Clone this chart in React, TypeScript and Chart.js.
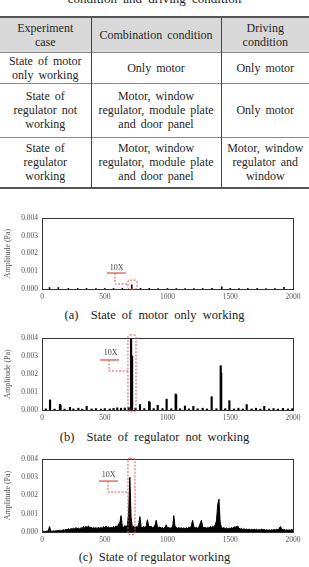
import React, { useEffect, useRef } from "react";
import { Chart, registerables } from "chart.js";
Chart.register(...registerables);

const SERIF = '"Liberation Serif", "Times New Roman", serif';

// Axis ticks
const xTicks = [0, 500, 1000, 1500, 2000];
const yTicks = [0, 0.001, 0.002, 0.003, 0.004];

// (a) State of motor only working — frequency (Hz), amplitude (x1e-4 Pa)
const motorFreq = [60, 130, 210, 285, 355, 430, 500, 570, 640, 715, 785, 855, 925, 1000, 1070, 1140, 1210, 1280, 1355, 1432, 1500, 1570, 1640, 1715, 1785, 1855, 1928];
const motorAmp = [0.8, 0.8, 0.3, 0.3, 0.3, 0.3, 0.3, 0.3, 0.4, 2.3, 0.4, 0.4, 0.3, 0.3, 0.3, 0.3, 0.3, 0.3, 0.4, 1.2, 0.4, 0.3, 0.3, 0.4, 0.3, 0.3, 1.0];

// (b) State of regulator not working
const notWorkingFreq = [30, 64, 100, 143, 148, 180, 223, 250, 290, 320, 356, 395, 430, 470, 500, 540, 570, 600, 630, 660, 690, 710, 718, 745, 781, 815, 853, 858, 890, 922, 960, 993, 1030, 1065, 1069, 1100, 1139, 1170, 1206, 1240, 1280, 1315, 1352, 1390, 1424, 1428, 1460, 1493, 1530, 1565, 1600, 1631, 1670, 1705, 1740, 1771, 1810, 1845, 1880, 1920, 1960, 1995];
const notWorkingAmp = [0.6, 5.6, 0.5, 3.2, 2.6, 0.5, 1.5, 0.6, 1.0, 0.5, 2.0, 0.6, 0.8, 0.5, 0.8, 0.6, 0.9, 1.2, 1.0, 1.1, 1.4, 42, 30, 1.0, 3.0, 0.8, 4.7, 4.2, 0.8, 2.6, 0.8, 6.0, 0.7, 8.9, 8.4, 0.7, 2.2, 0.6, 2.0, 0.7, 1.0, 0.6, 7.4, 0.7, 24.6, 20.5, 0.7, 5.2, 0.6, 1.0, 0.6, 3.0, 0.6, 1.0, 0.5, 2.0, 0.6, 0.8, 0.5, 0.9, 0.6, 0.8];

// (c) State of regulator working — spectrum sampled every 10 Hz from 0 to 2000 Hz (x1e-4 Pa)
const workingStepHz = 10;
const workingAmp = [
  0.2, 0.3, 0.4, 0.3, 0.5, 0.6, 3.0, 0.5, 0.4, 0.6,
  0.5, 0.7, 0.6, 0.9, 0.7, 1.0, 0.8, 1.2, 1.0, 1.5,
  1.2, 1.8, 1.4, 1.9, 1.5, 2.2, 1.6, 2.5, 1.8, 2.2,
  1.6, 2.4, 1.9, 3.0, 2.0, 3.2, 2.2, 3.4, 2.1, 2.8,
  1.9, 2.6, 2.0, 2.4, 1.8, 2.7, 2.0, 2.5, 1.9, 3.0,
  2.1, 3.3, 2.2, 2.9, 2.0, 2.6, 2.1, 3.1, 2.3, 3.4,
  2.5, 4.5, 5.0, 9.0, 3.0, 2.6, 3.5, 2.4, 4.0, 10.0,
  30.0, 8.0, 2.5, 3.2, 2.2, 3.0, 2.4, 4.0, 8.5, 3.0,
  2.3, 3.1, 2.2, 3.4, 6.7, 3.5, 2.8, 3.2, 2.2, 2.9,
  3.5, 6.4, 3.0, 2.4, 2.8, 2.0, 2.6, 1.9, 2.4, 4.0,
  2.1, 2.6, 1.9, 2.5, 2.0, 9.0, 3.0, 2.6, 2.0, 2.5,
  1.9, 2.4, 1.8, 2.3, 1.7, 2.4, 1.9, 2.6, 2.1, 3.5,
  6.4, 3.0, 2.2, 2.6, 2.0, 2.8, 4.5, 6.4, 3.0, 2.3,
  2.7, 2.0, 2.6, 2.1, 3.0, 2.4, 3.2, 2.6, 4.0, 6.0,
  15.0, 18.0, 5.0, 2.6, 2.0, 2.5, 1.8, 2.3, 1.7, 2.2,
  1.8, 2.4, 2.0, 2.8, 2.6, 3.0, 3.2, 2.0, 1.6, 2.0,
  1.4, 1.8, 1.3, 1.7, 1.2, 1.6, 1.2, 1.5, 1.1, 1.6,
  1.2, 1.5, 1.0, 1.4, 1.1, 1.6, 1.2, 1.4, 1.0, 1.3,
  0.9, 1.2, 0.9, 1.3, 1.0, 1.4, 1.1, 1.5, 1.2, 2.0,
  3.0, 1.8, 1.2, 1.5, 1.0, 1.3, 0.9, 1.2, 1.0, 1.4,
  1.1
];

// "10X" zoom annotations (data units: Hz, Pa)
const markA = { labelX: 594, labelY: 0.00118, lineX1: 518, lineX2: 669, lineY: 0.0009, elbowX: 582, elbowY: 0.00028, boxX1: 685, boxX2: 757, boxY1: 0.0, boxY2: 0.0005 };
const markB = { labelX: 546, labelY: 0.00317, lineX1: 462, lineX2: 614, lineY: 0.00278, elbowX: 534, elbowY: 0.00217, boxX1: 685, boxX2: 749, boxY1: -0.0001, boxY2: 0.00417 };
const markC = { labelX: 530, labelY: 0.00312, lineX1: 454, lineX2: 606, lineY: 0.00279, elbowX: 526, elbowY: 0.00219, boxX1: 685, boxX2: 741, boxY1: -0.00015, boxY2: 0.00405 };

const E4 = 1e-4;
const toPoints = (fs: number[], as: number[]) => fs.map((f, i) => ({ x: f, y: as[i] * E4 }));

const framePlugin = {
  id: "frame",
  afterDraw(chart: any) {
    const { ctx, chartArea: a } = chart;
    ctx.save();
    ctx.strokeStyle = "#333";
    ctx.lineWidth = 1;
    ctx.strokeRect(Math.round(a.left) + 0.5, Math.round(a.top) + 0.5, Math.round(a.right - a.left), Math.round(a.bottom - a.top));
    ctx.restore();
  },
};

function makeMarkPlugin(m: any) {
  return {
    id: "zoomMark",
    afterDraw(chart: any) {
      const { ctx } = chart;
      const xs = chart.scales.x;
      const ys = chart.scales.y;
      const px = (v: number) => xs.getPixelForValue(v);
      const py = (v: number) => ys.getPixelForValue(v);
      const red = "#e65550";
      ctx.save();
      ctx.fillStyle = "#444";
      ctx.font = `8px ${SERIF}`;
      ctx.textAlign = "center";
      ctx.textBaseline = "middle";
      ctx.fillText("10X", px(m.labelX), py(m.labelY));
      ctx.strokeStyle = red;
      ctx.lineWidth = 1.3;
      ctx.beginPath();
      ctx.moveTo(px(m.lineX1), py(m.lineY));
      ctx.lineTo(px(m.lineX2), py(m.lineY));
      ctx.stroke();
      ctx.lineWidth = 1;
      ctx.setLineDash([2, 1.5]);
      ctx.beginPath();
      ctx.moveTo(px(m.elbowX), py(m.lineY));
      ctx.lineTo(px(m.elbowX), py(m.elbowY));
      ctx.lineTo(px(m.boxX1), py(m.elbowY));
      ctx.stroke();
      const x1 = px(m.boxX1), x2 = px(m.boxX2), y1 = py(m.boxY2), y2 = py(m.boxY1);
      const r = 2;
      ctx.beginPath();
      ctx.moveTo(x1 + r, y1);
      ctx.lineTo(x2 - r, y1);
      ctx.quadraticCurveTo(x2, y1, x2, y1 + r);
      ctx.lineTo(x2, y2 - r);
      ctx.quadraticCurveTo(x2, y2, x2 - r, y2);
      ctx.lineTo(x1 + r, y2);
      ctx.quadraticCurveTo(x1, y2, x1, y2 - r);
      ctx.lineTo(x1, y1 + r);
      ctx.quadraticCurveTo(x1, y1, x1 + r, y1);
      ctx.stroke();
      ctx.restore();
    },
  };
}

function makeConfig(datasets: any[], mark: any): any {
  const tickFont = { family: SERIF, size: 7.5 };
  return {
    type: "bar",
    data: { datasets },
    options: {
      animation: false,
      responsive: false,
      maintainAspectRatio: false,
      events: [],
      layout: { padding: { top: 10, right: 16, bottom: 0, left: 0 } },
      plugins: { legend: { display: false }, tooltip: { enabled: false } },
      scales: {
        x: {
          type: "linear",
          min: 0,
          max: 2000,
          offset: false,
          grid: { display: false, drawTicks: false },
          border: { display: false },
          afterBuildTicks: (s: any) => {
            s.ticks = xTicks.map((v) => ({ value: v }));
          },
          ticks: { font: tickFont, color: "#555", padding: 4, maxRotation: 0, autoSkip: false, callback: (v: any) => String(v) },
          afterFit: (s: any) => {
            s.height = 14;
            s.paddingLeft = 0;
            s.paddingRight = 0;
          },
        },
        y: {
          type: "linear",
          min: 0,
          max: 0.004,
          grid: { display: false, drawTicks: false },
          border: { display: false },
          afterBuildTicks: (s: any) => {
            s.ticks = yTicks.map((v) => ({ value: v }));
          },
          ticks: { font: tickFont, color: "#555", padding: 4, callback: (v: any) => Number(v).toFixed(3) },
          title: { display: true, text: "Amplitude (Pa)", font: { family: SERIF, size: 8 }, color: "#555", padding: { top: 3, bottom: 0 } },
          afterFit: (s: any) => {
            s.width = 42;
            s.paddingTop = 0;
            s.paddingBottom = 0;
          },
        },
      },
    },
    plugins: [framePlugin, makeMarkPlugin(mark)],
  };
}

function SpectrumChart({ top, height, datasets, mark }: any) {
  const ref = useRef<HTMLCanvasElement>(null);
  useEffect(() => {
    if (!ref.current) return;
    const chart = new Chart(ref.current, makeConfig(datasets, mark));
    return () => chart.destroy();
  }, []);
  return (
    <canvas
      ref={ref}
      width={309}
      height={height}
      style={{ position: "absolute", left: 0, top, width: 309, height }}
    />
  );
}

const captionStyle: any = {
  position: "absolute",
  left: 0,
  width: 309,
  textAlign: "center",
  fontFamily: SERIF,
  fontSize: 12.5,
  color: "#222",
  whiteSpace: "nowrap",
  lineHeight: "14px",
};

const cell: any = {
  fontFamily: SERIF,
  fontSize: 12,
  lineHeight: "14px",
  color: "#262626",
  textAlign: "center",
  verticalAlign: "middle",
  wordSpacing: 2,
  padding: 0,
  whiteSpace: "nowrap",
  borderTop: "1px solid #8a8a8a",
};

export default function App() {
  const barStyle = { backgroundColor: "#000", borderWidth: 0 };
  const dsA = [{ type: "bar", data: toPoints(motorFreq, motorAmp), barThickness: 1, ...barStyle }];
  const dsB = [{ type: "bar", data: toPoints(notWorkingFreq, notWorkingAmp), barThickness: 1.5, ...barStyle }];
  const dsC = [
    {
      type: "line",
      data: workingAmp.map((a, i) => ({ x: i * workingStepHz, y: a * E4 })),
      borderColor: "#000",
      borderWidth: 1,
      pointRadius: 0,
      fill: "origin",
      backgroundColor: "#000",
      tension: 0,
    },
  ];
  const colW = [91, 130, 88];
  return (
    <div style={{ position: "fixed", left: 0, top: 0, width: 309, height: 567, background: "#fff", overflow: "hidden" }}>
      <div style={{ ...captionStyle, top: -8, fontSize: 13, wordSpacing: 3 }}>condition and driving condition</div>
      <table
        style={{
          position: "absolute",
          left: 0,
          top: 16,
          width: 309,
          borderCollapse: "collapse",
          tableLayout: "fixed",
          borderTop: "2px solid #555",
          borderBottom: "2px solid #555",
        }}
      >
        <colgroup>
          {colW.map((w, i) => (
            <col key={i} style={{ width: w }} />
          ))}
        </colgroup>
        <tbody>
          <tr style={{ height: 35, background: "#d9d9d9" }}>
            <td style={{ ...cell, borderTop: "none" }}>Experiment<br />case</td>
            <td style={{ ...cell, borderTop: "none", borderLeft: "1.5px solid #444", borderRight: "1.5px solid #444" }}>Combination condition</td>
            <td style={{ ...cell, borderTop: "none" }}>Driving<br />condition</td>
          </tr>
          <tr style={{ height: 31 }}>
            <td style={cell}>State of motor<br />only working</td>
            <td style={{ ...cell, borderLeft: "1.5px solid #444", borderRight: "1.5px solid #444" }}>Only motor</td>
            <td style={cell}>Only motor</td>
          </tr>
          <tr style={{ height: 54 }}>
            <td style={cell}>State of<br />regulator not<br />working</td>
            <td style={{ ...cell, borderLeft: "1.5px solid #444", borderRight: "1.5px solid #444" }}>Motor, window<br />regulator, module plate<br />and door panel</td>
            <td style={cell}>Only motor</td>
          </tr>
          <tr style={{ height: 51 }}>
            <td style={cell}>State of<br />regulator<br />working</td>
            <td style={{ ...cell, borderLeft: "1.5px solid #444", borderRight: "1.5px solid #444" }}>Motor, window<br />regulator, module plate<br />and door panel</td>
            <td style={cell}>Motor, window<br />regulator and<br />window</td>
          </tr>
        </tbody>
      </table>

      <SpectrumChart top={208} height={95} datasets={dsA} mark={markA} />
      <div style={{ ...captionStyle, top: 308, wordSpacing: 3 }}>(a)&nbsp; State of motor only working</div>

      <SpectrumChart top={328} height={96} datasets={dsB} mark={markB} />
      <div style={{ ...captionStyle, top: 430, wordSpacing: 3 }}>(b)&nbsp; State of regulator not working</div>

      <SpectrumChart top={449} height={97} datasets={dsC} mark={markC} />
      <div style={{ ...captionStyle, top: 550 }}>(c)&nbsp; State of regulator working</div>
    </div>
  );
}
